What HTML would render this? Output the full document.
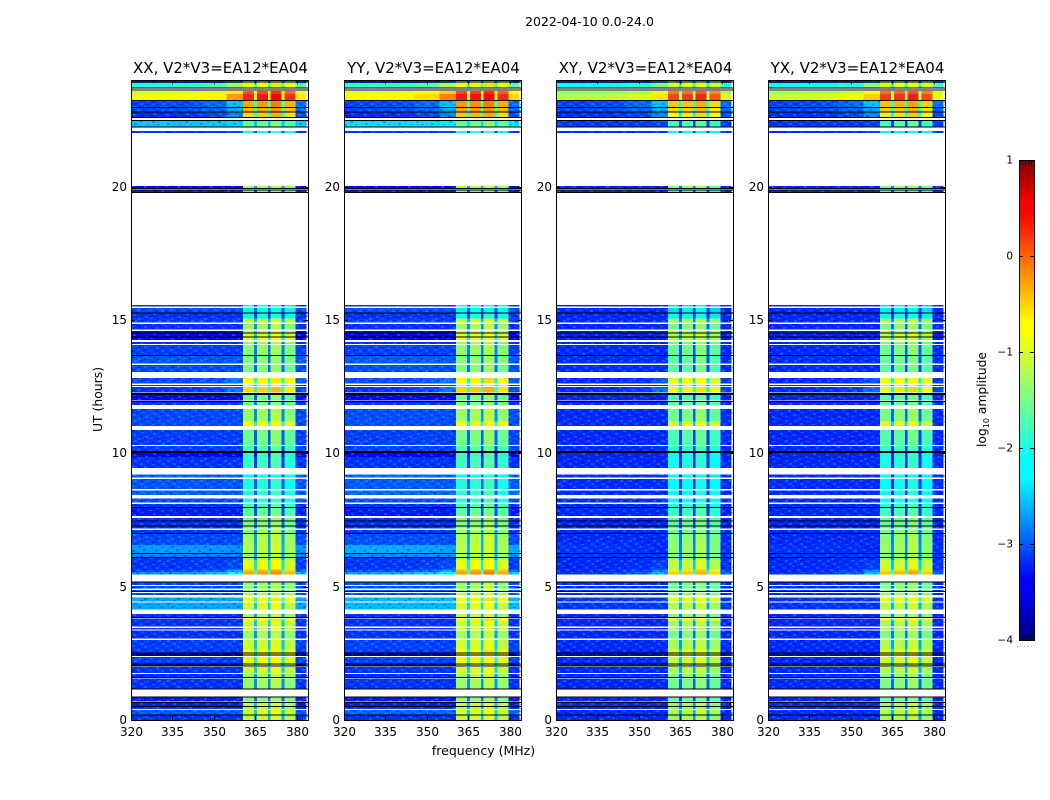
<!DOCTYPE html>
<html>
<head>
<meta charset="utf-8">
<title>2022-04-10 amplitude waterfall</title>
<style>
html,body{margin:0;padding:0;background:#fff;}
svg{display:block;}
text{font-family:"DejaVu Sans","Liberation Sans",sans-serif;fill:#000;}
</style>
</head>
<body>
<svg id="figure" width="1050" height="800" viewBox="0 0 1050 800" xmlns="http://www.w3.org/2000/svg">
  <defs>
    <pattern id="speckle" patternUnits="userSpaceOnUse" width="33" height="20" shape-rendering="crispEdges">
      <g fill="#00b4ff" fill-opacity="0.4">
        <rect x="2" y="0" width="3" height="2"/><rect x="14" y="1" width="3" height="1"/><rect x="26" y="0" width="3" height="2"/>
        <rect x="8" y="3" width="3" height="2"/><rect x="20" y="4" width="3" height="1"/><rect x="30" y="3" width="3" height="2"/>
        <rect x="0" y="6" width="3" height="1"/><rect x="12" y="6" width="3" height="2"/><rect x="24" y="7" width="3" height="2"/>
        <rect x="5" y="9" width="3" height="2"/><rect x="17" y="10" width="3" height="1"/><rect x="29" y="10" width="3" height="2"/>
        <rect x="9" y="12" width="3" height="1"/><rect x="21" y="13" width="3" height="2"/><rect x="1" y="14" width="3" height="2"/>
        <rect x="13" y="16" width="3" height="2"/><rect x="26" y="16" width="3" height="1"/><rect x="6" y="18" width="3" height="2"/><rect x="18" y="18" width="3" height="1"/>
      </g>
      <g fill="#0000a8" fill-opacity="0.3">
        <rect x="8" y="0" width="3" height="2"/><rect x="20" y="1" width="3" height="2"/><rect x="30" y="0" width="3" height="1"/>
        <rect x="2" y="3" width="3" height="2"/><rect x="14" y="4" width="3" height="1"/><rect x="25" y="4" width="3" height="1"/>
        <rect x="6" y="6" width="3" height="2"/><rect x="18" y="7" width="3" height="1"/><rect x="29" y="7" width="3" height="1"/>
        <rect x="11" y="9" width="3" height="2"/><rect x="23" y="10" width="3" height="2"/><rect x="0" y="10" width="3" height="2"/>
        <rect x="4" y="12" width="3" height="2"/><rect x="15" y="13" width="3" height="1"/><rect x="28" y="13" width="3" height="2"/>
        <rect x="8" y="15" width="3" height="2"/><rect x="19" y="15" width="3" height="2"/><rect x="0" y="17" width="3" height="1"/><rect x="12" y="18" width="3" height="2"/><rect x="24" y="18" width="3" height="2"/>
      </g>
    </pattern>
  </defs>
  <rect x="0" y="0" width="1050" height="800" fill="#fff"/>
  <text x="589.5" y="26" font-size="12.5" text-anchor="middle">2022-04-10 0.0-24.0</text>
  <text x="483.5" y="755" font-size="12.5" text-anchor="middle">frequency (MHz)</text>
  <text transform="translate(102,399.5) rotate(-90)" font-size="12.4" text-anchor="middle">UT (hours)</text>
  <text transform="translate(986,399.5) rotate(-90)" font-size="12.3" text-anchor="middle">log<tspan font-size="8" dy="3">10</tspan><tspan dy="-3"> amplitude</tspan></text>
  <g id="panels"></g>
  <g id="colorbar"></g>
</svg>
<script>
// ---------- categories and tick labels ----------
const panelTitles = ["XX, V2*V3=EA12*EA04", "YY, V2*V3=EA12*EA04", "XY, V2*V3=EA12*EA04", "YX, V2*V3=EA12*EA04"];
const freqTicks = [320, 335, 350, 365, 380];
const hourTicks = [0, 5, 10, 15, 20];
const colorbarTicks = [1, 0, -1, -2, -3, -4];

// ---------- per-polarisation adjustments (log10 amplitude) ----------
const panelSignalShift = [0, 0.05, -0.17, -0.12];
const panelBroadbandGain = [1, 1.15, 0.12, 0.1];
const panelTopBandGain = [1, 1.05, 0.85, 0.9];

// ---------- time rows: start and end in UT hours ----------
const rowTop = [
  23.96,23.89,23.59,23.48,23.21,22.97,22.80,22.46,22.09,20.03,
  19.86,15.56,15.45,15.28,15.06,14.85,14.59,14.36,14.18,14.06,
  13.65,13.31,12.83,12.56,12.49,12.19,11.93,11.66,11.19,10.88,
  10.28,10.01,9.86,9.21,9.04,8.60,8.30,8.10,7.95,7.58,
  7.26,7.13,6.98,6.56,6.23,6.08,6.00,5.65,5.55,5.15,
  5.03,4.88,4.77,4.60,4.40,3.97,3.81,3.71,3.45,3.35,
  3.00,2.66,2.51,2.37,2.08,1.99,1.72,1.56,0.86,0.64,
  0.53,0.38,0.16
];
const rowBottom = [
  23.89,23.70,23.48,23.25,22.97,22.80,22.61,22.24,22.01,19.94,
  19.80,15.50,15.28,15.06,14.91,14.64,14.39,14.25,14.10,13.69,
  13.37,13.05,12.61,12.53,12.28,11.98,11.81,11.19,11.03,10.31,
  10.09,9.86,9.45,9.09,8.67,8.44,8.15,7.97,7.65,7.29,
  7.18,6.99,6.56,6.26,6.11,6.00,5.65,5.55,5.45,5.07,
  4.93,4.82,4.68,4.45,4.15,3.86,3.71,3.50,3.39,3.05,
  2.66,2.53,2.40,2.11,2.02,1.77,1.61,1.18,0.69,0.53,
  0.41,0.20,0.00
];
// ---------- level outside the signal block, log10 amplitude ----------
const rowBase = [
  -3.1,-1.9,-1.05,-0.85,-3.1,-3.1,-3.2,-2.45,-3.1,-3.3,
  -3.2,-3.1,-3.0,-3.1,-3.05,-3.1,-3.3,-3.3,-3.1,-3.05,
  -2.95,-3.0,-3.0,-3.1,-3.1,-3.3,-3.1,-3.0,-3.0,-3.05,
  -3.05,-3.35,-3.1,-2.9,-2.95,-2.9,-3.0,-3.1,-3.2,-3.1,
  -3.1,-3.1,-3.0,-2.65,-2.75,-3.1,-3.1,-3.0,-2.7,-3.0,
  -3.0,-3.0,-3.0,-2.6,-2.6,-3.1,-3.1,-3.1,-3.1,-3.1,
  -3.05,-3.05,-3.3,-3.05,-3.3,-3.1,-3.15,-3.1,-3.2,-3.2,
  -3.1,-2.9,-3.1
];
// ---------- extra level just below the signal block ----------
const rowShoulder = [
  0.3,0.6,0.45,0.6,0.55,0.45,0.4,0.05,0.1,0,
  0,0,0,0,0,0,0,0,0,0,
  0,0,0.2,0,0.3,0,0,0,0,0,
  0,0,0,0,0,0,0,0,0,0,
  0,0,0,-0.05,0,0,0.1,0.4,0.6,0,
  0,0,0,0,0,0,0,0,0,0,
  0,0,0,0,0,0,0,0,0,0,
  0,0,0
];
// ---------- level inside the signal block ----------
const rowSignal = [
  -1.5,-0.7,0.1,0.35,-0.25,-0.3,-0.45,-1.55,-2.0,-1.2,
  -1.7,-2.3,-2.2,-2.1,-1.1,-1.3,-1.0,-0.85,-1.4,-1.35,
  -1.4,-1.45,-0.7,-1.1,-0.5,-1.5,-1.4,-1.3,-0.8,-1.5,
  -1.7,-1.85,-1.8,-2.1,-1.95,-1.9,-1.9,-1.7,-1.6,-1.4,
  -1.4,-1.3,-1.2,-1.15,-1.2,-1.2,-0.9,-0.4,-0.25,-1.3,
  -1.3,-1.2,-1.2,-0.7,-1.0,-1.2,-0.7,-1.05,-1.1,-1.25,
  -1.05,-0.75,-0.85,-0.85,-1.0,-1.0,-1.25,-1.3,-1.4,-1.1,
  -1.15,-1.0,-1.1
];
// ---------- flagged scans drawn as black lines, UT hours ----------
const flaggedHours = [
  23.92,23.70,23.63,23.23,22.97,22.80,22.59,22.48,22.24,19.93,19.88,19.78,
  15.26,14.52,14.37,13.67,12.24,12.21,11.95,10.07,10.03,7.97,7.47,7.27,6.99,
  6.25,6.10,5.18,4.81,3.85,2.52,2.44,2.10,2.02,1.60,1.17,0.86,0.65,0.51,0.19
];
// ---------- frequency channel profiles ----------
const lowChannelWeight = [ // channels 320..360: share of the shoulder level
  0,0,0,0,0,0,0,0,0,0,0,0.05,0.05,0.05,0.05,0.05,0.05,0.05,0.05,0.05,
  0.05,0.1,0.1,0.1,0.1,0.1,0.3,0.3,0.3,0.3,0.3,0.3,0.3,0.3,0.3,
  1,1,1,1,1,1
];
const signalChannelShift = [ // channels 361..379: offset from the row's signal level
  -0.05,-0.05,-0.05,-0.05,-1.5,0,0,0,0,-1.5,0.1,0.1,0.1,0.1,-1.5,-0.12,-0.12,-0.12,-0.12
];
const highChannelWeight = [0.35,0.35,0.35,0.35]; // channels 380..383

// ---------- axis functions ----------
const panelLeft = [131, 344, 556, 768];
const plotW = 177, plotTop = 80, plotH = 640;
const freqMin = 320, freqMax = 384, hourMax = 24;
const xScale = (p, f) => panelLeft[p] + (Math.max(freqMin, Math.min(freqMax, f)) - freqMin) / (freqMax - freqMin) * plotW;
const yScale = h => plotTop + plotH - h / hourMax * plotH;
const cbX = 1019, cbW = 15, cbTop = 160, cbH = 480, cbMin = -4, cbMax = 1;
const cbScale = v => cbTop + (cbMax - v) / (cbMax - cbMin) * cbH;

// jet colormap knots
const jetStops = [[0,0,0,0.5],[0.11,0,0,1],[0.125,0,0,1],[0.34,0,1,1],[0.35,0,1,1],[0.375,0,1,1],[0.64,1,1,0],[0.66,1,1,0],[0.89,1,0,0],[0.91,1,0,0],[1,0.5,0,0]];
function jet(level) {
  const t = Math.max(0, Math.min(1, (level - cbMin) / (cbMax - cbMin)));
  for (let i = 1; i < jetStops.length; i++) {
    if (t <= jetStops[i][0]) {
      const a = jetStops[i - 1], b = jetStops[i], u = (t - a[0]) / (b[0] - a[0] || 1);
      const c = k => Math.round(255 * (a[k] + (b[k] - a[k]) * u));
      return "rgb(" + c(1) + "," + c(2) + "," + c(3) + ")";
    }
  }
  return "rgb(128,0,0)";
}
const NS = "http://www.w3.org/2000/svg";
function make(tag, parent, props) {
  const el = document.createElementNS(NS, tag);
  for (const k in props) el.setAttribute(k, props[k]);
  parent.appendChild(el);
  return el;
}
const quietLevel = -3.15, topBandHour = 22.5, quietShift = -0.07;

function cellLevel(p, r, f) {
  const isTop = rowTop[r] > topBandHour;
  const gain = isTop ? panelTopBandGain[p] : panelBroadbandGain[p];
  const base = quietLevel + (rowBase[r] - quietLevel) * gain + (isTop ? 0 : quietShift);
  const shoulder = rowShoulder[r];
  if (f <= 360) return base + shoulder * lowChannelWeight[f - 320];
  if (f <= 379) {
    const shift = signalChannelShift[f - 361];
    return Math.max(base, rowSignal[r] + panelSignalShift[p] + shift);
  }
  return base + shoulder * highChannelWeight[f - 380];
}

const panelsRoot = document.getElementById("panels");
panelTitles.forEach(function (title, p) {
  const g = make("g", panelsRoot, {});
  
  

  const cells = make("g", g, {"shape-rendering": "crispEdges"});
  
  
  for (let r = 0; r < rowTop.length; r++) {
    const y0 = yScale(rowTop[r]), y1 = yScale(rowBottom[r]);
    for (let f = freqMin; f < freqMax; f++) {
      const x0 = xScale(p, f - 0.5), x1 = xScale(p, f + 0.5);
      const cell = make("rect", cells, {x: x0, y: y0, width: x1 - x0, height: y1 - y0, fill: jet(cellLevel(p, r, f))});
      
      
    }
    if (rowBase[r] < -2) {
      const sxL = xScale(p, 320), sxM = xScale(p, 360.5), sxR = xScale(p, 379.5), sxE = xScale(p, 384);
      const grainL = make("rect", cells, {x: sxL, y: y0, width: sxM - sxL, height: y1 - y0, fill: "url(#speckle)"});
      
      
      const grainR = make("rect", cells, {x: sxR, y: y0, width: sxE - sxR, height: y1 - y0, fill: "url(#speckle)"});
      
      
    }
  }

  flaggedHours.forEach(function (h) {
    const line = make("rect", g, {x: panelLeft[p], y: yScale(h) - 0.5, width: plotW, height: 1, fill: "#000", "shape-rendering": "crispEdges"});
    
    
  });

  const frame = make("rect", g, {x: panelLeft[p] + 0.5, y: plotTop + 0.5, width: plotW, height: plotH, fill: "none", stroke: "#000", "stroke-width": 1});
  
  

  const heading = make("text", g, {x: panelLeft[p] + plotW / 2 + 1, y: 73, "font-size": 15, "text-anchor": "middle"});
  heading.textContent = title;
  
  

  freqTicks.forEach(function (f) {
    const x = Math.round(xScale(p, f)) + 0.5;
    const tickB = make("line", g, {x1: x, x2: x, y1: plotTop + plotH, y2: plotTop + plotH - 4, stroke: "#000"});
    
    
    const tickT = make("line", g, {x1: x, x2: x, y1: plotTop, y2: plotTop + 4, stroke: "#000"});
    
    
    const label = make("text", g, {x: x, y: 736, "font-size": 12, "text-anchor": "middle"});
    label.textContent = f;
    
    
  });

  hourTicks.forEach(function (h) {
    const y = Math.round(yScale(h)) + 0.5;
    const tickL = make("line", g, {x1: panelLeft[p], x2: panelLeft[p] + 4, y1: y, y2: y, stroke: "#000"});
    
    
    const tickR = make("line", g, {x1: panelLeft[p] + plotW, x2: panelLeft[p] + plotW - 4, y1: y, y2: y, stroke: "#000"});
    
    
    const label = make("text", g, {x: panelLeft[p] - 4, y: y + 3.5, "font-size": 12, "text-anchor": "end"});
    label.textContent = h;
    
    
  });
});

// ---------- colorbar ----------
const cb = document.getElementById("colorbar");
const sliceGroup = make("g", cb, {"shape-rendering": "crispEdges"});
for (let py = 0; py < cbH; py++) {
  const v = cbMax - (py + 0.5) / cbH * (cbMax - cbMin);
  const slice = make("rect", sliceGroup, {x: cbX, y: cbTop + py, width: cbW, height: 1, fill: jet(v)});
  
  
}
const cbFrame = make("rect", cb, {x: cbX + 0.5, y: cbTop + 0.5, width: cbW, height: cbH, fill: "none", stroke: "#000"});


colorbarTicks.forEach(function (v) {
  const y = Math.round(cbScale(v)) + 0.5;
  const tickL = make("line", cb, {x1: cbX, x2: cbX + 4, y1: y, y2: y, stroke: "#000"});
  
  
  const tickR = make("line", cb, {x1: cbX + cbW, x2: cbX + cbW - 4, y1: y, y2: y, stroke: "#000"});
  
  
  const label = make("text", cb, {x: 1013, y: y + 3, "font-size": 10.5, "text-anchor": "end"});
  label.textContent = v < 0 ? "\u2212" + Math.abs(v) : v;
  
  
});
[cbTop, cbTop + cbH].forEach(function (end) {
  const dir = end === cbTop ? 1 : -1;
  for (let i = 1; i <= 4; i++) {
    const x = cbX + i * 3 + 0.5;
    const minor = make("line", cb, {x1: x, x2: x, y1: end, y2: end + dir * 5, stroke: "#000"});
    
    
  }
});
const dots = make("line", cb, {x1: 1017, x2: 1035, y1: 646.5, y2: 646.5, stroke: "#999", "stroke-dasharray": "1 2.5"});


</script>
</body>
</html>
